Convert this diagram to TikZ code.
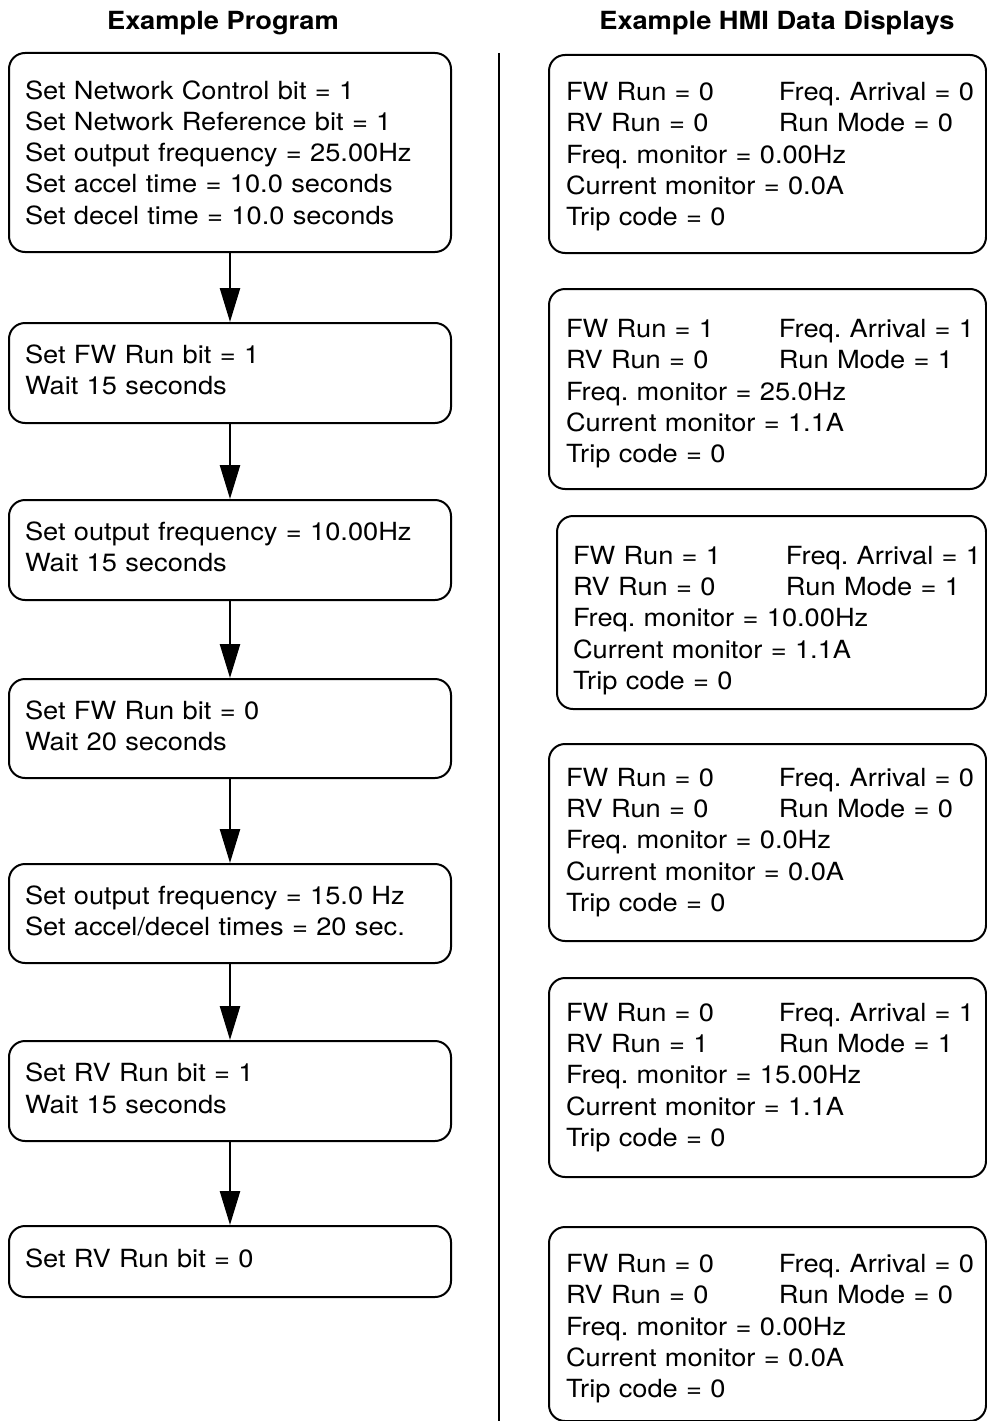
\documentclass[tikz,border=0pt]{standalone}
\usepackage{fontspec}
\setmainfont{TeX Gyre Heros}[FakeStretch=1.09]
\usetikzlibrary{arrows.meta,positioning}
\frenchspacing

\newcommand{\hmipair}[2]{\makebox[213pt][l]{#1}\rlap{#2}}
\newcommand{\padtop}[1]{\rule{0pt}{#1}}

\begin{document}
\begin{tikzpicture}[x=1pt,y=-1pt,
  txt/.style={font=\fontsize{25}{31.3}\selectfont},
  prog/.style={txt,draw,line width=2pt,rounded corners=16pt,minimum width=442pt,
    text width=410pt,inner xsep=16pt,inner ysep=0pt,align=left},
  raised/.style={execute at end node={\rule[-6pt]{0pt}{6pt}}},
  hmi/.style={txt,draw,line width=2pt,rounded corners=16pt,anchor=north west,
    inner xsep=17pt,inner ysep=0pt,align=left},
  flow/.style={line width=2.5pt,-{Triangle[length=34pt,width=20pt]}}]
\useasboundingbox (0,0) rectangle (986,1421);

\node[txt,font=\fontsize{25}{31.3}\selectfont\bfseries,anchor=base] (progtitle) at (223,30) {Example Program};
\node[txt,font=\fontsize{25}{31.3}\selectfont\bfseries,anchor=base] (hmititle) at (777,30) {Example HMI Data Displays};

\draw[line width=1.8pt] (499,53) -- (499,1421);

\node[prog,minimum height=199pt] (p1) at (230,152.5) {Set Network Control bit = 1\\
  Set Network Reference bit = 1\\ Set output frequency = 25.00Hz\\
  Set accel time = 10.0 seconds\\ Set decel time = 10.0 seconds};
\node[prog,raised,minimum height=100pt] (p2) at (230,373) {Set FW Run bit = 1\\ Wait 15 seconds};
\node[prog,raised,minimum height=100pt] (p3) at (230,550) {Set output frequency = 10.00Hz\\ Wait 15 seconds};
\node[prog,raised,minimum height=99pt] (p4) at (230,728.5) {Set FW Run bit = 0\\ Wait 20 seconds};
\node[prog,raised,minimum height=99pt] (p5) at (230,913.5) {Set output frequency = 15.0 Hz\\ Set accel/decel times = 20 sec.};
\node[prog,raised,minimum height=100pt] (p6) at (230,1091) {Set RV Run bit = 1\\ Wait 15 seconds};
\node[prog,raised,minimum height=71pt] (p7) at (230,1261.5) {Set RV Run bit = 0};

\draw[flow] (p1) -- (p2);
\draw[flow] (p2) -- (p3);
\draw[flow] (p3) -- (p4);
\draw[flow] (p4) -- (p5);
\draw[flow] (p5) -- (p6);
\draw[flow] (p6) -- (p7);

\node[hmi,text width=403pt,minimum height=198pt] (d1) at (548,54) {\padtop{24pt}\hmipair{FW Run = 0}{Freq. Arrival = 0}\\
  \hmipair{RV Run = 0}{Run Mode = 0}\\ Freq. monitor = 0.00Hz\\ Current monitor = 0.0A\\ Trip code = 0};
\node[hmi,text width=403pt,minimum height=200pt] (d2) at (548,288) {\padtop{28pt}\hmipair{FW Run = 1}{Freq. Arrival = 1}\\
  \hmipair{RV Run = 0}{Run Mode = 1}\\ Freq. monitor = 25.0Hz\\ Current monitor = 1.1A\\ Trip code = 0};
\node[hmi,text width=397pt,inner xsep=16pt,minimum height=193pt] (d3) at (556,515) {\padtop{34pt}\hmipair{FW Run = 1}{Freq. Arrival = 1}\\
  \hmipair{RV Run = 0}{Run Mode = 1}\\ Freq. monitor = 10.00Hz\\ Current monitor = 1.1A\\ Trip code = 0};
\node[hmi,text width=403pt,minimum height=197pt] (d4) at (548,743) {\hmipair{FW Run = 0}{Freq. Arrival = 0}\\
  \hmipair{RV Run = 0}{Run Mode = 0}\\ Freq. monitor = 0.0Hz\\ Current monitor = 0.0A\\ Trip code = 0};
\node[hmi,text width=403pt,minimum height=199pt] (d5) at (548,977) {\hmipair{FW Run = 0}{Freq. Arrival = 1}\\
  \hmipair{RV Run = 1}{Run Mode = 1}\\ Freq. monitor = 15.00Hz\\ Current monitor = 1.1A\\ Trip code = 0};
\node[hmi,text width=403pt,minimum height=194pt] (d6) at (548,1226) {\padtop{28pt}\hmipair{FW Run = 0}{Freq. Arrival = 0}\\
  \hmipair{RV Run = 0}{Run Mode = 0}\\ Freq. monitor = 0.00Hz\\ Current monitor = 0.0A\\ Trip code = 0};
\end{tikzpicture}
\end{document}
